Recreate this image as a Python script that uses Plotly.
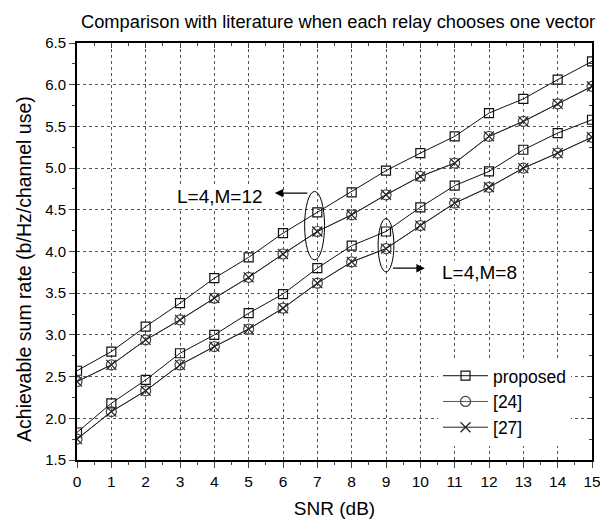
import plotly.graph_objects as go

snr = list(range(16))

prop_m12 = [2.57, 2.80, 3.10, 3.38, 3.68, 3.93, 4.22, 4.47, 4.71, 4.97, 5.18, 5.38, 5.66, 5.83, 6.06, 6.28]
ref24_m12 = [2.44, 2.64, 2.94, 3.18, 3.44, 3.69, 3.97, 4.24, 4.44, 4.68, 4.90, 5.06, 5.38, 5.56, 5.77, 5.98]
ref27_m12 = [2.44, 2.64, 2.94, 3.18, 3.44, 3.69, 3.97, 4.24, 4.44, 4.68, 4.90, 5.06, 5.38, 5.56, 5.77, 5.98]

prop_m8 = [1.83, 2.18, 2.46, 2.78, 3.00, 3.26, 3.49, 3.80, 4.07, 4.24, 4.53, 4.79, 4.96, 5.22, 5.42, 5.58]
ref24_m8 = [1.75, 2.08, 2.33, 2.64, 2.86, 3.07, 3.32, 3.62, 3.875, 4.035, 4.31, 4.58, 4.77, 5.00, 5.18, 5.37]
ref27_m8 = [1.75, 2.08, 2.33, 2.64, 2.86, 3.07, 3.32, 3.62, 3.875, 4.035, 4.31, 4.58, 4.77, 5.00, 5.18, 5.37]

series = [
    ("proposed", prop_m12, True), ("proposed", prop_m8, False),
    ("[24]", ref24_m12, True), ("[24]", ref24_m8, False),
    ("[27]", ref27_m12, True), ("[27]", ref27_m8, False),
]
styles = {
    "proposed": dict(symbol="square-open", size=9, color="#111111", lc="#111111"),
    "[24]": dict(symbol="circle-open", size=10, color="#444444", lc="#555555"),
    "[27]": dict(symbol="x-thin-open", size=10, color="#222222", lc="#222222"),
}

FONT = "Arial, Liberation Sans, sans-serif"
fig = go.Figure()
for name, vals, show in series:
    s = styles[name]
    fig.add_trace(go.Scatter(
        x=snr, y=vals, mode="lines+markers", name=name, legendgroup=name,
        showlegend=show,
        line=dict(color=s["lc"], width=1),
        marker=dict(symbol=s["symbol"], size=s["size"], color=s["color"],
                    line=dict(color=s["color"], width=1.2)),
    ))

# mirror axes with inward ticks
fig.add_trace(go.Scatter(x=[None], y=[None], xaxis="x2", yaxis="y2", showlegend=False, hoverinfo="skip"))

grid = dict(showgrid=True, gridcolor="#555555", griddash="dot", gridwidth=1)
fig.update_layout(
    width=600, height=514,
    margin=dict(l=69, r=16, t=35, b=62, autoexpand=False),
    paper_bgcolor="white", plot_bgcolor="white",
    font=dict(family=FONT, size=15, color="black"),
    xaxis=dict(range=[0, 15], dtick=1, tick0=0, ticks="outside", ticklen=6, tickwidth=1,
               showline=True, linewidth=2, linecolor="black", mirror=True, automargin=False,
               minor=dict(dtick=0.5, ticks="outside", ticklen=3, showgrid=False),
               title=dict(text="SNR (dB)", font=dict(size=19), standoff=13),
               tickfont=dict(size=15.5), zeroline=False, **grid),
    yaxis=dict(range=[1.5, 6.5], dtick=0.5, tick0=1.5, ticks="outside", ticklen=6, tickwidth=1,
               tickformat=".1f", automargin=False,
               showline=True, linewidth=2, linecolor="black", mirror=True,
               minor=dict(dtick=0.25, ticks="outside", ticklen=3, showgrid=False),
               tickfont=dict(size=15), zeroline=False, **grid),
    xaxis2=dict(range=[0, 15], dtick=1, tick0=0, overlaying="x", side="top", anchor="y2",
                ticks="inside", ticklen=5, showticklabels=False, showgrid=False, zeroline=False,
                automargin=False, minor=dict(dtick=0.5, ticks="inside", ticklen=3)),
    yaxis2=dict(range=[1.5, 6.5], dtick=0.5, tick0=1.5, overlaying="y", side="right", anchor="x2",
                ticks="inside", ticklen=5, showticklabels=False, showgrid=False, zeroline=False,
                automargin=False, minor=dict(dtick=0.25, ticks="inside", ticklen=3)),
    legend=dict(x=0.701, y=0.245, xanchor="left", yanchor="top",
                bgcolor="white", borderwidth=0, font=dict(size=17.5, family=FONT),
                itemwidth=45, tracegroupgap=0),
    showlegend=True,
)

# chart title as paper-anchored text
fig.add_annotation(x=0.507, y=1.0, xref="paper", yref="paper", yshift=9,
                   text="Comparison with literature when each relay chooses one vector",
                   showarrow=False, xanchor="center", yanchor="bottom",
                   font=dict(size=18.3, family=FONT))

# y axis title placed as rotated text
fig.add_annotation(x=-0.103, y=0.458, xref="paper", yref="paper",
                   text="Achievable sum rate (b/Hz/channel use)", textangle=-90,
                   showarrow=False, xanchor="center", yanchor="middle",
                   font=dict(size=19.5, family=FONT))

# ellipses grouping curves
fig.add_shape(type="circle", xref="x", yref="y", x0=6.63, x1=7.21, y0=3.90, y1=4.72,
              line=dict(color="black", width=1))
fig.add_shape(type="circle", xref="x", yref="y", x0=8.77, x1=9.23, y0=3.755, y1=4.395,
              line=dict(color="black", width=1))

# arrows
fig.add_annotation(x=5.76, y=4.70, ax=6.75, ay=4.70, xref="x", yref="y", axref="x", ayref="y",
                   text="", showarrow=True, arrowhead=2, arrowsize=1.4, arrowwidth=1.2, arrowcolor="black")
fig.add_annotation(x=10.13, y=3.80, ax=9.16, ay=3.80, xref="x", yref="y", axref="x", ayref="y",
                   text="", showarrow=True, arrowhead=2, arrowsize=1.4, arrowwidth=1.2, arrowcolor="black")
fig.add_annotation(x=2.85, y=4.66, xref="x", yref="y", text="L=4,M=12", showarrow=False,
                   xanchor="left", yanchor="middle", font=dict(size=19, family=FONT), bgcolor="white")
fig.add_annotation(x=10.56, y=3.75, xref="x", yref="y", text="L=4,M=8", showarrow=False,
                   xanchor="left", yanchor="middle", font=dict(size=19, family=FONT), bgcolor="white")

fig.write_html("out.html")
